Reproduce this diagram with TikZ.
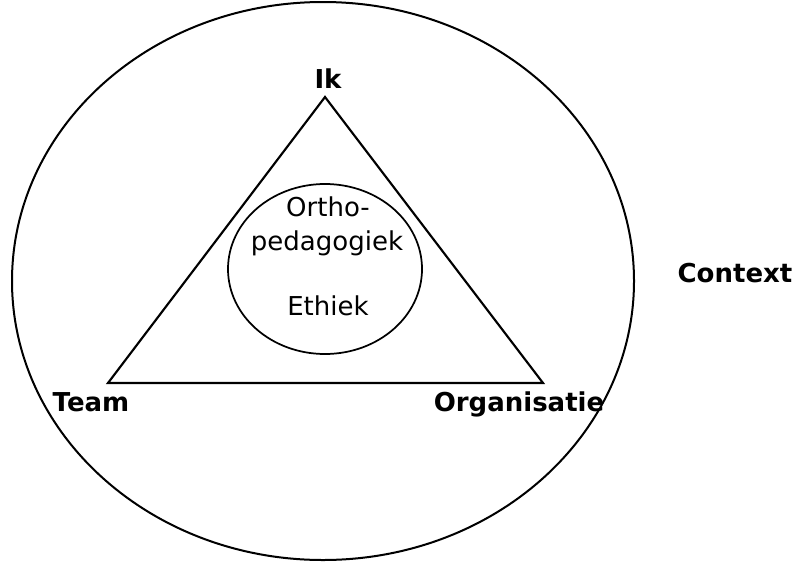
\documentclass[tikz,border=0pt]{standalone}
\usepackage{fontspec}
\setmainfont{DejaVu Sans}
\begin{document}
\begin{tikzpicture}[x=0.75pt,y=-0.75pt,
  every node/.style={font=\fontsize{19.5}{23}\selectfont, anchor=base},
  lbl/.style={font=\fontsize{19.5}{23}\selectfont\bfseries}]
\useasboundingbox (0,0) rectangle (795,561);

\draw[line width=1.5pt] (323,281) ellipse (311 and 279);

\coordinate (ik) at (325,97);
\coordinate (team) at (108,383);
\coordinate (org) at (543,383);
\draw[line width=1.6pt] (ik) -- (org) -- (team) -- cycle;

\draw[line width=1.3pt] (325,269) ellipse (97 and 85);
\node (ortho) at (328,216) {Ortho-};
\node (peda) at (327,250) {pedagogiek};
\node (ethiek) at (328,315) {Ethiek};

\node[lbl] (iklbl) at (328,88) {Ik};
\node[lbl] (teamlbl) at (91,411) {Team};
\node[lbl] (orglbl) at (519,411) {Organisatie};
\node[lbl] (context) at (735,282) {Context};
\end{tikzpicture}
\end{document}
